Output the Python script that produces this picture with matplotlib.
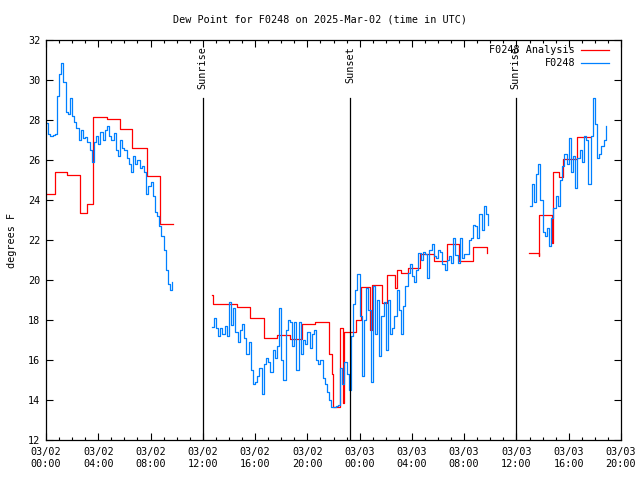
import matplotlib
matplotlib.use("Agg")
import matplotlib.pyplot as plt
import numpy as np

# ---------------- data ----------------
title = "Dew Point for F0248 on 2025-Mar-02 (time in UTC)"
ylabel = "degrees F"
x_tick_hours = [0, 4, 8, 12, 16, 20, 24, 28, 32, 36, 40, 44]
x_tick_labels = ["03/02\n00:00", "03/02\n04:00", "03/02\n08:00", "03/02\n12:00",
                 "03/02\n16:00", "03/02\n20:00", "03/03\n00:00", "03/03\n04:00",
                 "03/03\n08:00", "03/03\n12:00", "03/03\n16:00", "03/03\n20:00"]
y_ticks = [12, 14, 16, 18, 20, 22, 24, 26, 28, 30, 32]

# events (hours since 03/02 00:00 UTC)
event_names = ["Sunrise", "Sunset", "Sunrise"]
event_hours = [12.0, 23.26, 35.93]

# F0248 observations: segments (start hour, sample interval in minutes, values)
obs_interval_min = 10
obs_a_start = 0.0
obs_a = [27.85, 27.3, 27.2, 27.25, 27.3, 29.2, 30.3, 30.85, 29.9, 28.4,
         28.3, 29.1, 28.2, 27.9, 27.6, 27.0, 27.5, 27.1, 27.15, 26.9,
         26.5, 25.9, 26.9, 27.2, 26.8, 27.4, 27.0, 27.5, 27.7, 27.2,
         27.0, 27.35, 26.5, 26.2, 27.0, 26.6, 26.5, 26.1, 25.8, 25.4,
         26.2, 25.8, 26.0, 25.6, 25.7, 25.4, 24.3, 24.7, 24.9, 24.2,
         23.4, 23.2, 22.7, 22.2, 21.5, 20.5, 19.8, 19.5, 19.9]
obs_b_start = 12.667
obs_b = [17.67, 18.1, 17.6, 17.2, 17.6, 17.3, 17.7, 17.2, 18.9, 17.75,
         18.6, 17.4, 16.9, 17.5, 17.8, 17.1, 16.3, 16.9, 15.5, 14.8,
         14.9, 15.2, 15.6, 14.3, 15.8, 16.1, 15.9, 15.4, 16.5, 16.1,
         16.7, 18.6, 16.0, 15.0, 17.5, 18.0, 17.9, 16.7, 17.9, 15.5,
         17.9, 16.3, 17.0, 16.8, 17.4, 16.6, 17.3, 17.5, 16.0, 15.8,
         16.0, 15.1, 14.8, 14.4, 14.0, 13.65, 13.65, 13.7, 13.75, 15.6,
         14.8, 15.9, 15.3, 14.5, 17.2, 18.8, 19.5, 20.3, 18.2, 15.2,
         18.0, 19.6, 18.5, 14.9, 19.7, 17.3, 19.0, 16.2, 18.2, 18.9,
         16.5, 19.0, 17.3, 17.6, 18.2, 19.5, 18.5, 17.3, 18.7, 19.7,
         20.35, 20.8, 20.2, 19.9, 20.5, 21.35, 21.0, 21.4, 21.3, 20.1,
         21.5, 21.8, 21.2, 21.1, 21.5, 21.4, 20.8, 20.5, 21.0, 21.2,
         20.85, 22.1, 21.25, 20.85, 22.1, 21.1, 21.3, 21.3, 22.0, 22.1,
         22.75, 22.7, 22.1, 23.3, 22.5, 23.7, 23.3, 22.75]
obs_c_start = 37.0
obs_c = [23.7, 24.8, 23.9, 25.3, 25.8, 24.0, 22.4, 22.2, 22.6, 21.7,
         23.1, 23.6, 24.2, 23.7, 25.0, 25.7, 26.3, 25.8, 27.1, 25.4,
         26.2, 24.6, 26.1, 26.5, 25.9, 27.2, 27.0, 24.8, 27.2, 29.1,
         27.8, 26.1, 26.3, 26.7, 27.0, 27.7]

# F0248 Analysis: step segments (hours, values)
ana_a_hours = [0, 0.67, 1.6, 2.6, 3.1, 3.6, 4.7, 5.7, 6.6, 7.7, 8.7, 9.7]
ana_a_vals = [24.3, 25.4, 25.25, 23.35, 23.8, 28.15, 28.05, 27.55, 26.6, 25.2, 22.8, 22.8]
ana_b_hours = [12.68, 12.76, 14.62, 15.61, 16.68, 17.65, 18.67, 19.59, 20.58, 21.66,
               21.86, 21.96, 22.50, 22.69, 22.77, 23.70, 24.07, 24.79, 24.91, 25.69,
               26.09, 26.70, 26.86, 27.17, 27.70, 28.62, 29.69, 30.66, 31.60, 32.65,
               33.52, 33.75]
ana_b_vals = [19.25, 18.8, 18.65, 18.1, 17.1, 17.25, 17.05, 17.8, 17.9, 16.3,
              15.3, 13.67, 17.6, 13.85, 17.4, 18.0, 19.65, 17.5, 19.75, 18.85,
              20.25, 19.6, 20.5, 20.35, 20.6, 21.3, 20.95, 21.8, 20.95, 21.67,
              21.67, 21.35]
ana_c_hours = [36.96, 37.74, 37.76, 38.70, 38.82, 39.28, 39.59, 40.61, 41.63]
ana_c_vals = [21.33, 21.2, 23.25, 21.85, 25.4, 25.17, 26.05, 27.13, 27.13]

# ---------------- plot ----------------
mono = "DejaVu Sans Mono"
plt.rcParams["font.family"] = [mono]
blue = "#0080ff"
red = "#ff0000"

fig = plt.figure(figsize=(6.4, 4.8), dpi=100)
ax = fig.add_axes([46/640, 1-440/480, 575/640, 400/480])

for h, v in [(ana_a_hours, ana_a_vals), (ana_b_hours, ana_b_vals), (ana_c_hours, ana_c_vals)]:
    ax.plot(h, v, color=red, lw=0.9, drawstyle="steps-post")

for start, vals in [(obs_a_start, obs_a), (obs_b_start, obs_b), (obs_c_start, obs_c)]:
    hrs = start + np.arange(len(vals)) * obs_interval_min / 60.0
    ax.plot(hrs, vals, color=blue, lw=0.9, drawstyle="steps-post")

for name, h in zip(event_names, event_hours):
    ax.axvline(h, ymin=0, ymax=0.855, color="black", lw=0.9)
    ax.text(h, 0.985, name, transform=ax.get_xaxis_transform(), rotation=90,
            ha="center", va="top", fontsize=7.3)

ax.set_xlim(0, 44)
ax.set_ylim(12, 32)
ax.set_xticks(x_tick_hours)
ax.set_xticklabels(x_tick_labels, fontsize=7.3)
ax.set_xticks(np.arange(0, 45, 1), minor=True)
ax.set_yticks(y_ticks)
ax.set_yticklabels([str(t) for t in y_ticks], fontsize=7.3)
ax.tick_params(which="both", direction="in", top=True, right=True, width=0.8)
ax.tick_params(which="major", length=5)
ax.tick_params(which="minor", length=2.5)
ax.tick_params(axis="x", pad=5)
ax.tick_params(axis="y", pad=4)
for s in ax.spines.values():
    s.set_linewidth(0.9)

ax.set_ylabel(ylabel, fontsize=7.3, labelpad=8)
fig.text(0.5, 1-19/480, title, ha="center", va="center", fontsize=7.3)

# legend (gnuplot style: right-aligned text, sample on the right)
leg_entries = [("F0248 Analysis", red), ("F0248", blue)]
for k, (lab, col) in enumerate(leg_entries):
    yy = 0.976 - k * 0.033
    ax.text(0.920, yy, lab, transform=ax.transAxes, ha="right", va="center", fontsize=7.3)
    ax.plot([0.930, 0.979], [yy, yy], transform=ax.transAxes, color=col, lw=0.9)

fig.savefig("out.png", dpi=100)
